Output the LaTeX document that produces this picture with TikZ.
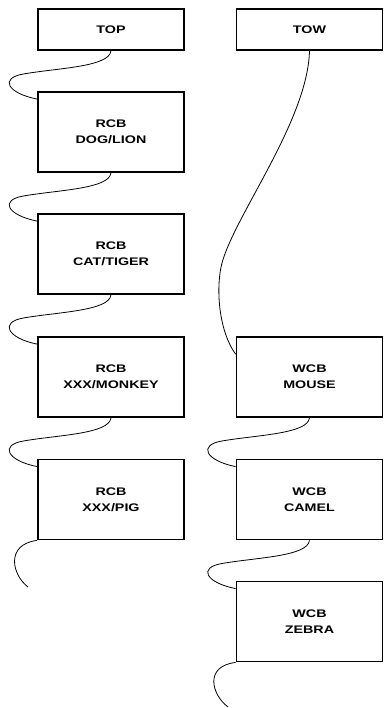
\documentclass[tikz,border=0pt]{standalone}
\usepackage{fontspec}
\newfontfamily\boxfont[FakeStretch=1.3]{Liberation Sans}

\tikzset{
    block/.style={draw, line width=1.8pt, minimum width=146pt, minimum height=80pt,
        inner sep=0pt, align=center, font=\boxfont\bfseries\fontsize{11}{16}\selectfont},
    headblock/.style={block, minimum height=41pt},
    wire/.style={line width=0.8pt}
}

\begin{document}
\begin{tikzpicture}[x=1pt, y=-1pt]
    \useasboundingbox (0,0) rectangle (384,708);

    % Head boxes
    \node[headblock] (top) at (111,29.5) {TOP};
    \node[headblock] (tow) at (309.5,29.5) {TOW};

    % Read chain
    \node[block] (dog) at (111,132) {RCB\\DOG/LION};
    \node[block] (cat) at (111,254) {RCB\\CAT/TIGER};
    \node[block] (monkey) at (111,377) {RCB\\XXX/MONKEY};
    \node[block] (pig) at (111,499.5) {RCB\\XXX/PIG};

    % Write chain
    \node[block] (mouse) at (309.5,377) {WCB\\MOUSE};
    \node[block] (camel) at (309.5,499.5) {WCB\\CAMEL};
    \node[block] (zebra) at (309.5,621.5) {WCB\\ZEBRA};

    % Loose ends
    \coordinate (pigend) at (28,587);
    \coordinate (zebraend) at (228,707);

    % Links between boxes
    \foreach \a/\b in {top/dog, dog/cat, cat/monkey, monkey/pig, mouse/camel, camel/zebra} {
        \draw[wire] (\a.south) .. controls +(-2,16) and +(35,-6) .. ++(-87,23)
            .. controls +(-25,4) and +(-30,-6) .. ([yshift=-8pt]\b.north west);
    }

    % Long link to the write chain
    \draw[wire] (tow.south) .. controls +(-2,70) and +(13,-48) .. (222,263)
        .. controls +(-6,22) and +(-18,-25) .. ([yshift=-18pt]mouse.north west);

    % Free ends
    \draw[wire] (pig.south west) .. controls +(-32,4) and +(-16,-12) .. (pigend);
    \draw[wire] (zebra.south west) .. controls +(-32,4) and +(-16,-12) .. (zebraend);
\end{tikzpicture}
\end{document}
